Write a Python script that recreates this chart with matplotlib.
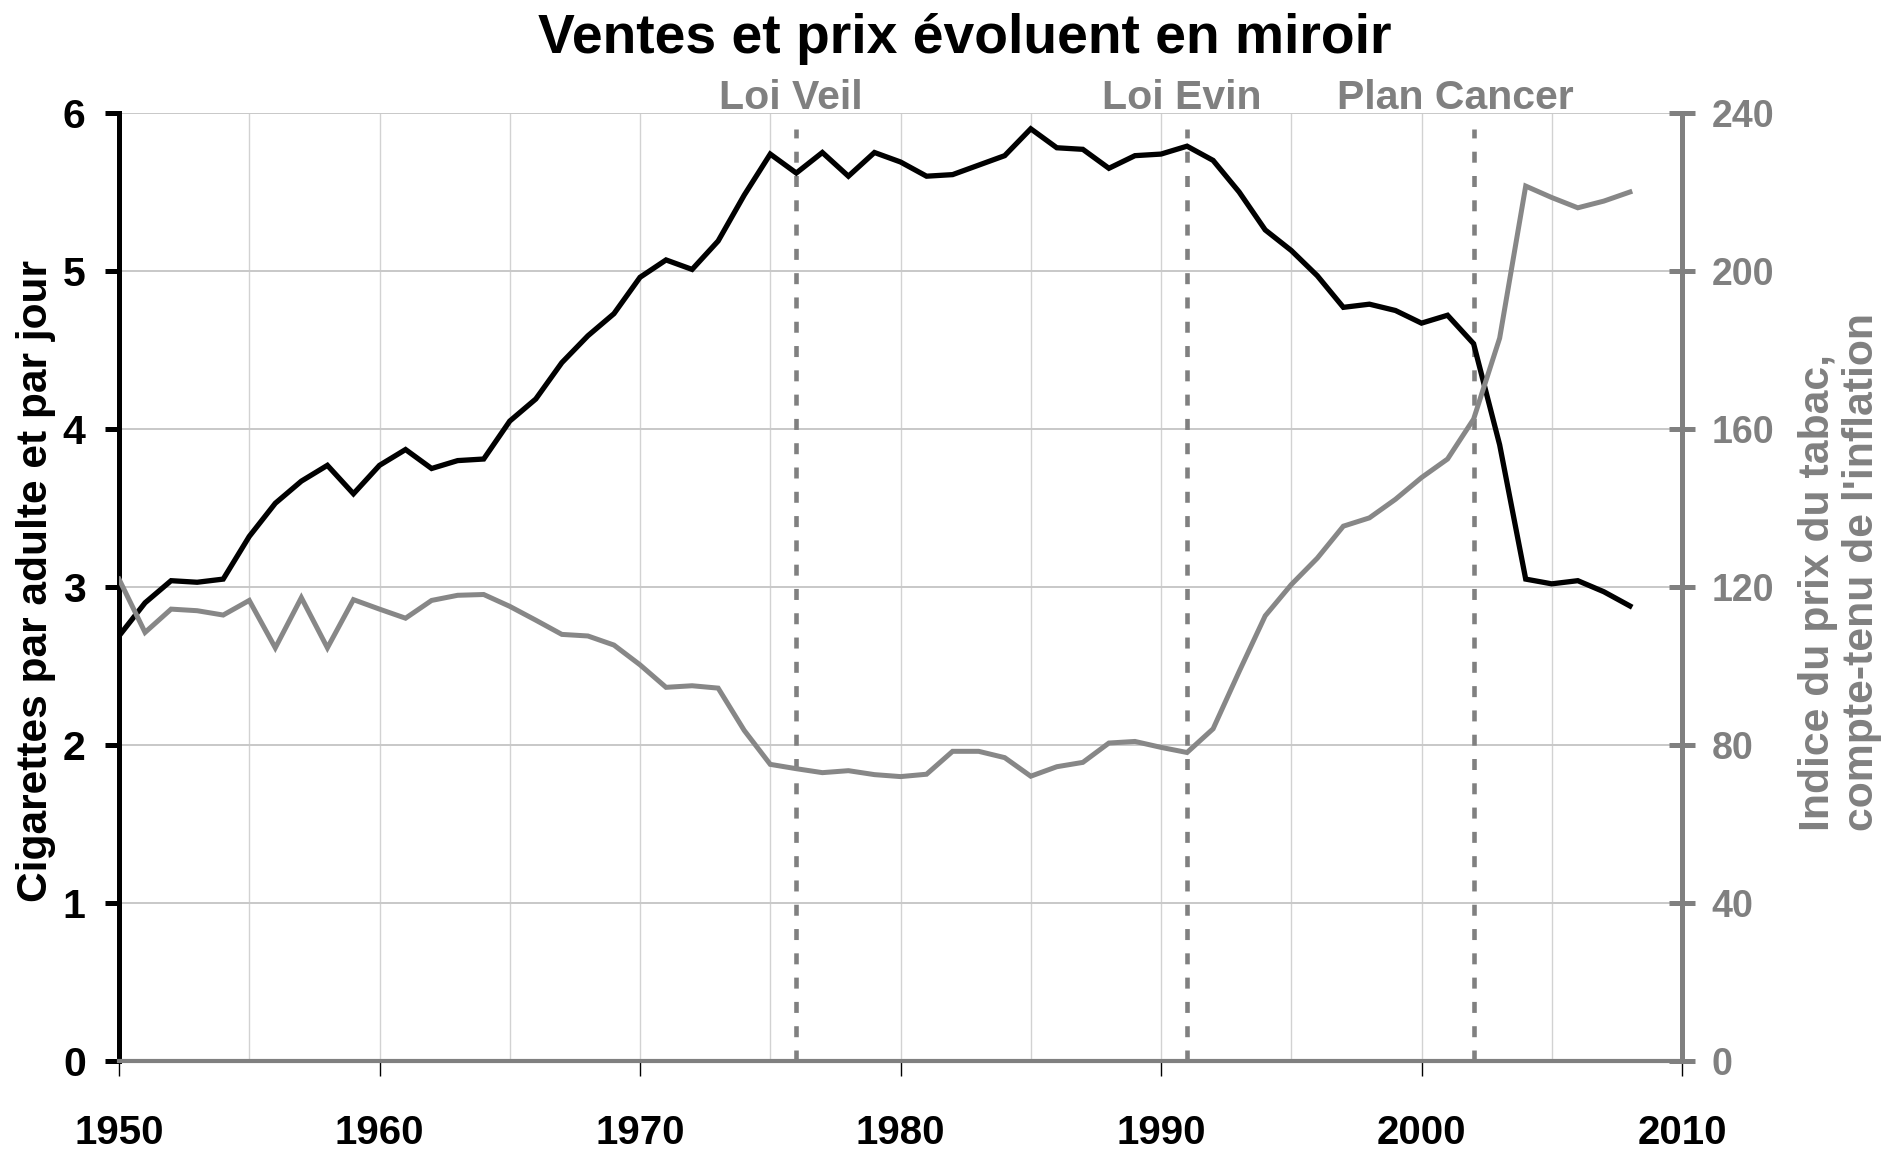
import numpy as np
import matplotlib
matplotlib.use("Agg")
import matplotlib.pyplot as plt

plt.rcParams['font.family'] = ['Liberation Sans', 'DejaVu Sans']
plt.rcParams['font.weight'] = 'bold'

# data
years = list(range(1950, 2009))
cigarettes = [2.69, 2.90, 3.04, 3.03, 3.05, 3.32, 3.53, 3.67, 3.77, 3.59,
              3.77, 3.87, 3.75, 3.80, 3.81, 4.05, 4.19, 4.42, 4.59, 4.73,
              4.96, 5.07, 5.01, 5.19, 5.48, 5.74, 5.62, 5.75, 5.60, 5.75,
              5.69, 5.60, 5.61, 5.67, 5.73, 5.90, 5.78, 5.77, 5.65, 5.73,
              5.74, 5.79, 5.70, 5.50, 5.26, 5.13, 4.97, 4.77, 4.79, 4.75,
              4.67, 4.72, 4.54, 3.90, 3.05, 3.02, 3.04, 2.97, 2.88]
prix = [122.0, 108.5, 114.4, 114.0, 112.9, 116.6, 104.6, 117.3, 104.6, 116.8,
        114.4, 112.1, 116.6, 117.9, 118.1, 115.1, 111.6, 108.0, 107.6, 105.3,
        100.3, 94.6, 95.0, 94.4, 83.7, 75.1, 74.0, 73.0, 73.5, 72.5,
        72.0, 72.6, 78.4, 78.4, 76.8, 72.1, 74.5, 75.6, 80.5, 80.9,
        79.4, 78.1, 84.1, 98.6, 112.7, 120.6, 127.3, 135.4, 137.5, 142.2,
        147.7, 152.4, 162.5, 183.0, 221.5, 218.6, 216.0, 217.7, 220.0]
event_years = [1976, 1991, 2002]
event_labels = ['Loi Veil', 'Loi Evin', 'Plan Cancer']
x_ticks = [1950, 1960, 1970, 1980, 1990, 2000, 2010]
left_ticks = [0, 1, 2, 3, 4, 5, 6]
right_ticks = [0, 40, 80, 120, 160, 200, 240]

gray = '#808080'
W, H = 1890, 1149
fig = plt.figure(figsize=(W / 100, H / 100), dpi=100)
left, right, top, bottom = 119, 1682, 113, 1061
ax = fig.add_axes([left / W, 1 - bottom / H, (right - left) / W, (bottom - top) / H])
ax2 = ax.twinx()

ax.set_xlim(1950, 2010)
ax.set_ylim(0, 6)
ax2.set_ylim(0, 240)

# grid
ax.set_xticks(x_ticks)
ax.set_xticks(np.arange(1955, 2010, 10), minor=True)
ax.set_yticks(left_ticks)
ax.grid(which='both', axis='x', color='#d2d2d2', lw=1.0, zorder=0)
ax.grid(which='major', axis='y', color='#c8c8c8', lw=1.4, zorder=0)
ax.set_axisbelow(True)

# event lines
label_dx = [-4, -4, -13]
for yr, lab, dx in zip(event_years, event_labels, label_dx):
    ax.plot([yr, yr], [0, 5.9], color=gray, lw=3.3, linestyle=(0, (2.4, 2.9)),
            dash_capstyle='butt', zorder=2)
    ax.annotate(lab, xy=(yr, 6), xytext=(dx, 3), textcoords='offset points',
                ha='center', va='baseline', fontsize=29.5, color=gray,
                annotation_clip=False)

ax.plot(years, cigarettes, color='black', lw=3.8, zorder=4,
        solid_joinstyle='miter')
ax2.plot(years, prix, color='#878787', lw=3.6, zorder=3,
         solid_joinstyle='miter')

# spines
ax.spines['top'].set_visible(False)
ax.spines['right'].set_visible(False)
ax.spines['left'].set_color('black')
ax.spines['left'].set_linewidth(3.6)
ax.spines['bottom'].set_color(gray)
ax.spines['bottom'].set_linewidth(3.0)
for s in ['top', 'left', 'bottom']:
    ax2.spines[s].set_visible(False)
ax2.spines['right'].set_color(gray)
ax2.spines['right'].set_linewidth(3.6)

ax.tick_params(axis='x', which='major', direction='out', length=11, width=1,
               color='black', pad=27, labelsize=29)
ax.tick_params(axis='x', which='minor', length=0)
ax.tick_params(axis='y', direction='out', length=10, width=3.6, color='black',
               pad=14, labelsize=29.5)
ax2.set_yticks(right_ticks)
ax2.tick_params(axis='y', direction='inout', length=19, width=3.6, color=gray,
                labelcolor=gray, pad=12, labelsize=27)

fig.text(965 / W, 1 - 53 / H, 'Ventes et prix évoluent en miroir',
         ha='center', va='baseline', fontsize=39.8)
fig.text(36 / W, 1 - 581 / H, 'Cigarettes par adulte et par jour',
         rotation=90, ha='center', va='center', fontsize=30.6)
fig.text(1840 / W, 1 - 831 / H, "Indice du prix du tabac,\ncompte-tenu de l'inflation",
         rotation=90, ha='center', va='bottom', multialignment='left',
         fontsize=30.8, color=gray, linespacing=1.1)

fig.savefig('out.png', dpi=100)
